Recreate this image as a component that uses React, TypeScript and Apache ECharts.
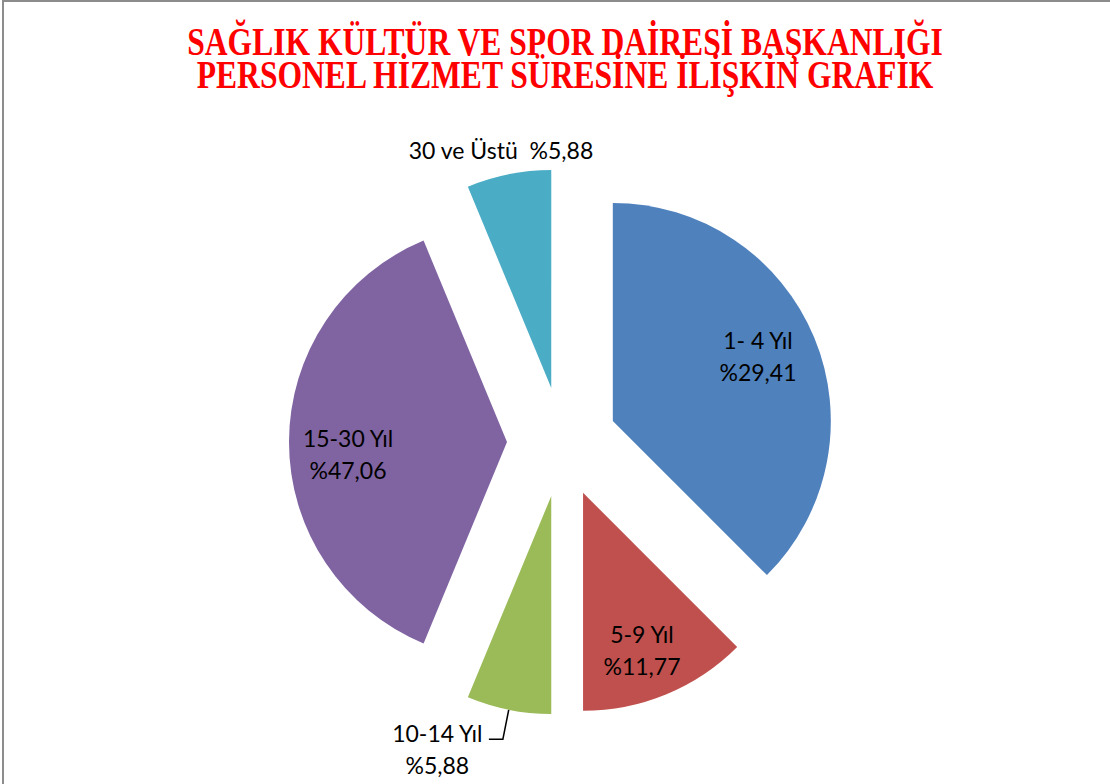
import React, { useEffect, useRef } from "react";
import * as echarts from "echarts";

const categories = ["1- 4 Yıl", "5-9 Yıl", "10-14 Yıl", "15-30 Yıl", "30 ve Üstü"];
const sliceValues = [6, 2, 1, 6, 1];
const percentLabels = ["%29,41", "%11,77", "%5,88", "%47,06", "%5,88"];
const sliceColors = ["#4F81BD", "#C0504D", "#9BBB59", "#8064A2", "#4BACC6"];
const titleLines = [
  "SAĞLIK KÜLTÜR VE SPOR DAİRESİ BAŞKANLIĞI",
  "PERSONEL HİZMET SÜRESİNE İLİŞKİN GRAFİK",
];

// layout settings
const PIE_CENTER = [562, 442];
const PIE_RADIUS = 218;
const EXPLODE = 55;
// label anchor points (layout, not data); null = default outside placement
const labelCenters: (number[] | null)[] = [
  [758, 356],
  [642, 650],
  null,
  [348, 454],
  [501, 150],
];
const LABEL_FONT = "Lato";
const LABEL_SIZE = 23;

export default function App() {
  const ref = useRef<HTMLDivElement>(null);

  useEffect(() => {
    if (!ref.current) return;
    const chart = echarts.init(ref.current, null, { renderer: "svg" });

    const total = sliceValues.reduce((a, b) => a + b, 0);
    let cum = 0;
    const series = categories.map((_, k) => {
      const mid = ((cum + sliceValues[k] / 2) / total) * 2 * Math.PI;
      cum += sliceValues[k];
      const center = [
        PIE_CENTER[0] + EXPLODE * Math.sin(mid),
        PIE_CENTER[1] - EXPLODE * Math.cos(mid),
      ];
      const data = categories.map((name, i) => {
        if (i !== k) {
          return {
            name,
            value: sliceValues[i],
            itemStyle: { color: "rgba(0,0,0,0)" },
            label: { show: false },
            labelLine: { show: false },
          };
        }
        const isGreen = i === 2;
        const isCyan = i === 4;
        return {
          name,
          value: sliceValues[i],
          itemStyle: { color: sliceColors[i] },
          label: isGreen
            ? {
                show: true,
                position: "outside",
                formatter: `{a|${name}}\n{a|${percentLabels[i]}}`,
                padding: [20, 0, 0, 0],
                distanceToLabelLine: 6,
                rich: {
                  a: {
                    align: "center",
                    fontFamily: LABEL_FONT,
                    fontSize: LABEL_SIZE,
                    lineHeight: 32,
                    color: "#000",
                  },
                },
              }
            : {
                show: true,
                position: "inside",
                formatter: isCyan
                  ? `${name}  ${percentLabels[i]}`
                  : `${name}\n${percentLabels[i]}`,
              },
          labelLine: isGreen
            ? { show: true, length: 30, length2: 14, lineStyle: { color: "#000", width: 1.5 } }
            : { show: false },
        };
      });
      return {
        type: "pie",
        name: categories[k],
        center,
        radius: [0, PIE_RADIUS],
        startAngle: 90,
        clockwise: true,
        avoidLabelOverlap: false,
        silent: true,
        emphasis: { disabled: true },
        label: {
          fontFamily: LABEL_FONT,
          fontSize: LABEL_SIZE,
          lineHeight: 32,
          color: "#000",
        },
        labelLayout: (params: any) => {
          const p = labelCenters[params.dataIndex];
          if (!p || params.dataIndex !== k) return {};
          return { x: p[0], y: p[1], align: "center", verticalAlign: "middle" };
        },
        data,
      };
    });

    chart.setOption({
      animation: false,
      backgroundColor: "#fff",
      graphic: [
        {
          type: "polyline",
          shape: { points: [[3, 784], [3, 1], [1110, 1]] },
          style: { stroke: "#8c8c8c", lineWidth: 2, fill: "none" },
          silent: true,
        },
        {
          type: "text",
          x: 565,
          y: 24,
          scaleY: 1.3,
          style: {
            text: titleLines.join("\n"),
            fill: "#FF0000",
            fontFamily: "Liberation Serif",
            fontWeight: "bold",
            fontSize: 31.6,
            lineHeight: 25.8,
            textAlign: "center",
            textVerticalAlign: "top",
          },
          silent: true,
        },
      ],
      series,
    });

    return () => chart.dispose();
  }, []);

  return (
    <div
      ref={ref}
      style={{ position: "fixed", left: 0, top: 0, width: 1110, height: 784 }}
    />
  );
}
